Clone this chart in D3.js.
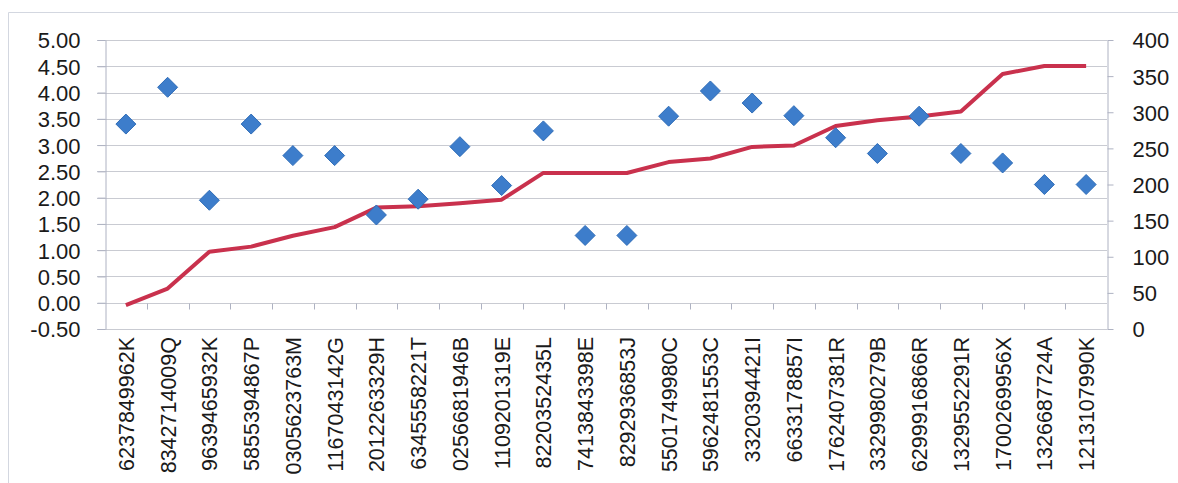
<!DOCTYPE html>
<meta charset="utf-8">
<style>
  body { margin: 0; background: #fff; }
  text { font-family: "Liberation Sans", Arial, sans-serif; fill: #1a1a1a; }
</style>
<svg id="mysvg" width="1178" height="483"></svg>
<script src="https://cdn.jsdelivr.net/npm/d3@7/dist/d3.min.js"></script>
<script>

var svg = d3.select("#mysvg");

// category codes along the bottom
var codes = ["6237849962K","8342714009Q","9639465932K","5855394867P","0305623763M",
  "1167043142G","2012263329H","6345558221T","0256681946B","1109201319E",
  "8220352435L","7413843398E","8292936853J","5501749980C","5962481553C",
  "3320394421I","6633178857I","1762407381R","3329980279B","6299916866R",
  "1329552291R","1700269956X","1326687724A","1213107990K"];

// diamonds, left axis
var scores = [3.40,4.10,1.95,3.40,2.80,2.80,1.67,1.97,2.97,2.23,3.27,1.28,
  1.28,3.55,4.03,3.80,3.56,3.14,2.84,3.55,2.84,2.66,2.25,2.25];

// red line, right axis
var totals = [33,56,107,114,129,141,168,170,174,179,216,216,
  216,231,236,252,254,281,289,294,301,353,364,364];

var leftTicks = [-0.5,0,0.5,1,1.5,2,2.5,3,3.5,4,4.5,5];
var rightTicks = [0,50,100,150,200,250,300,350,400];

var x = d3.scaleBand().domain(codes).range([105, 1107]).padding(0);
var yL = d3.scaleLinear().domain([-0.5, 5]).range([329, 40]);
var yR = d3.scaleLinear().domain([0, 400]).range([329, 40]);

// outer chart frame (partially visible)
svg.append("path")
  .attr("d", "M8.5,483 V12.5 H1178")
  .attr("fill", "none")
  .attr("stroke", "#d3d7e0");

// gridlines
svg.append("g").selectAll("line")
  .data(leftTicks)
  .enter().append("line")
  .attr("x1", 97).attr("x2", 1107)
  .attr("y1", function(d){ return Math.round(yL(d)) + 0.5; })
  .attr("y2", function(d){ return Math.round(yL(d)) + 0.5; })
  .attr("stroke", "#c9cbd2");

// left axis
var axL = svg.append("g")
  .attr("transform", "translate(105.5,0)")
  .call(d3.axisLeft(yL).tickValues(leftTicks)
    .tickFormat(function(d){ return d.toFixed(2); })
    .tickSize(8).tickPadding(17).tickSizeOuter(0));
axL.selectAll("text").style("font-size", "22px").attr("dy", "0.36em");

// right axis
var axR = svg.append("g")
  .attr("transform", "translate(1107.5,0)")
  .call(d3.axisRight(yR).tickValues(rightTicks)
    .tickSize(6).tickPadding(19).tickSizeOuter(0));
axR.selectAll("text").style("font-size", "22px").attr("dy", "0.36em");

svg.selectAll(".domain, .tick line").attr("stroke", "#aeb2c2");

// category tick marks on the zero line
var y0 = Math.round(yL(0)) + 0.5;
svg.append("g").selectAll("line")
  .data(codes.slice(1))
  .enter().append("line")
  .attr("x1", function(d){ return Math.round(x(d)) + 0.5; })
  .attr("x2", function(d){ return Math.round(x(d)) + 0.5; })
  .attr("y1", y0).attr("y2", y0 + 6)
  .attr("stroke", "#aeb2c2");

// category labels, rotated
svg.append("g").selectAll("text")
  .data(codes)
  .enter().append("text")
  .attr("transform", function(d){
    return "translate(" + (x(d) + x.bandwidth() / 2 + 8) + ",337) rotate(-90)";
  })
  .attr("text-anchor", "end")
  .style("font-size", "21.5px")
  .text(function(d){ return d; });

// red line
var line = d3.line()
  .x(function(d, i){ return x(codes[i]) + x.bandwidth() / 2; })
  .y(function(d){ return yR(d); });

svg.append("path")
  .datum(totals)
  .attr("d", line)
  .attr("fill", "none")
  .attr("stroke", "#c9314d")
  .attr("stroke-width", 4)
  .attr("stroke-linejoin", "round");

// diamonds
svg.append("g").selectAll("path")
  .data(scores)
  .enter().append("path")
  .attr("transform", function(d, i){
    return "translate(" + (x(codes[i]) + x.bandwidth() / 2) + "," + yL(d) + ")";
  })
  .attr("d", "M0,-10 L10,0 L0,10 L-10,0 Z")
  .attr("fill", "#3d7dcb")
  .attr("stroke", "#2f6db8")
  .attr("stroke-width", 1);

</script>
